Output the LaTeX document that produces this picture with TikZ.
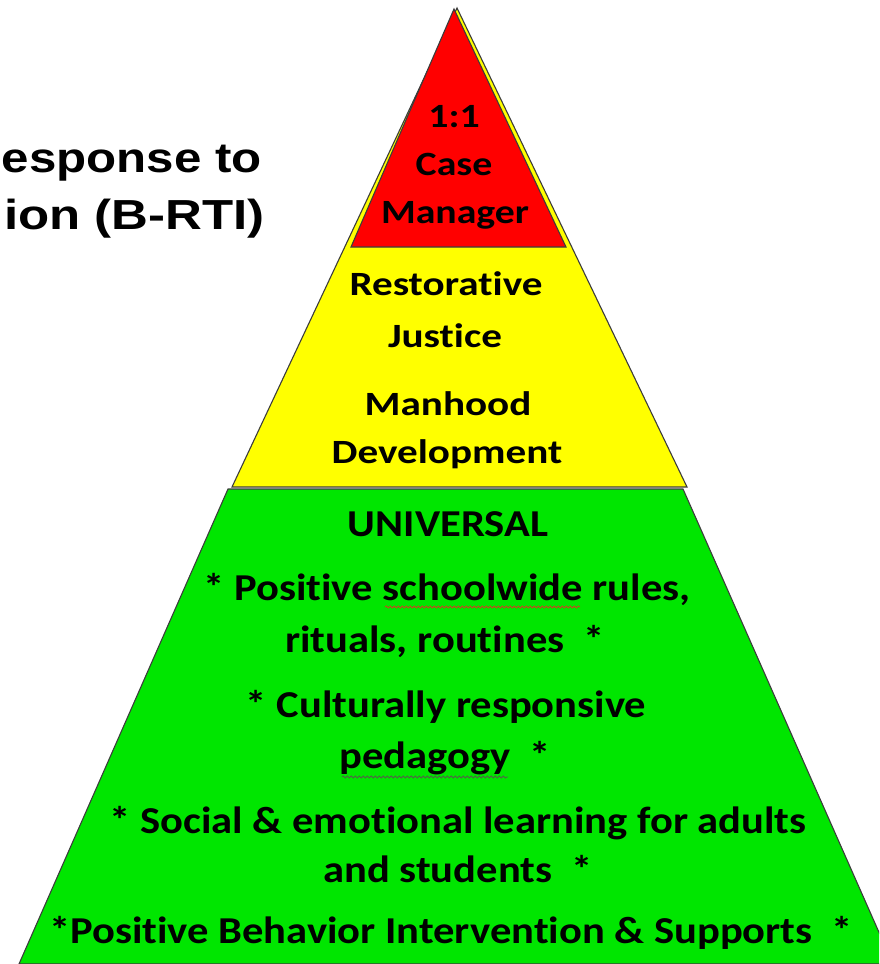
\documentclass[tikz,border=0pt]{standalone}
\usepackage{fontspec}
\setmainfont[Ligatures=NoCommon]{Carlito}
\newfontfamily\titlefont{Liberation Sans}
\usetikzlibrary{decorations.pathmorphing}
\definecolor{tierred}{RGB}{255,0,0}
\definecolor{tieryellow}{RGB}{255,255,0}
\definecolor{tiergreen}{RGB}{0,230,0}
\definecolor{edgegray}{RGB}{60,60,60}
\definecolor{squigred}{RGB}{200,70,30}
\definecolor{squiggray}{RGB}{80,100,70}
\begin{document}
\begin{tikzpicture}[x=1pt,y=-1pt,
  tier/.style={draw=edgegray,line width=1.1pt,line join=miter},
  rlbl/.style={anchor=base,inner sep=0pt,xscale=1.17,font=\bfseries\fontsize{34}{40}\selectfont},
  lbl/.style={anchor=base,inner sep=0pt,xscale=1.21,font=\bfseries\fontsize{34}{40}\selectfont},
  glbl/.style={anchor=base,inner sep=0pt,xscale=1.12,font=\bfseries\fontsize{38}{44}\selectfont},
  ttl/.style={anchor=base east,inner sep=0pt,xscale=1.19,font=\titlefont\bfseries\fontsize{42}{50}\selectfont},
  squig/.style={line width=0.8pt,decorate,decoration={snake,segment length=4pt,amplitude=1.1pt}}]
\useasboundingbox (0,0) rectangle (879,964);
\clip (0,0) rectangle (879,964);

% tiers of the pyramid
\draw[tier,fill=tieryellow] (457,8) -- (687,487) -- (232,487) -- cycle;
\draw[tier,fill=tierred] (454,9) -- (566,247) -- (351,247) -- cycle;
\draw[tier,fill=tiergreen] (228,489) -- (683,489) -- (893,964) -- (19,964) -- cycle;

% heading
\node[ttl,xscale=0.985] (h1) at (262,172) {esponse to};
\node[ttl,xscale=1.02] (h2) at (265,229) {ion (B-RTI)};

% top tier
\node[rlbl] (r1) at (454,127) {1:1};
\node[rlbl] (r2) at (454,175) {Case};
\node[rlbl] (r3) at (455,223) {Manager};

% middle tier
\node[lbl] (y1) at (446,295) {Restorative};
\node[lbl] (y2) at (445,347) {Justice};
\node[lbl] (y3) at (448,415) {Manhood};
\node[lbl] (y4) at (447,463) {Development};

% universal tier
\node[glbl] (g0) at (448,536) {UNIVERSAL};
\node[glbl] (g1) at (447,600) {* Positive schoolwide rules,};
\node[glbl] (g2) at (445,652) {rituals, routines \ *};
\node[glbl] (g3) at (446,717) {* Culturally responsive};
\node[glbl] (g4) at (445,768) {pedagogy \ *};
\node[glbl] (g5) at (458,833) {* Social \& emotional learning for adults};
\node[glbl] (g6) at (458,882) {and students \ *};
\node[glbl] (g7) at (451,943) {*Positive Behavior Intervention \& Supports \ *};

% spelling marks under two words
\coordinate (s1a) at (385,607);
\coordinate (s1b) at (580,607);
\coordinate (s2a) at (342,777);
\coordinate (s2b) at (508,777);
\draw[squig,squigred] (s1a) -- (s1b);
\draw[squig,squiggray] (s2a) -- (s2b);
\end{tikzpicture}
\end{document}
